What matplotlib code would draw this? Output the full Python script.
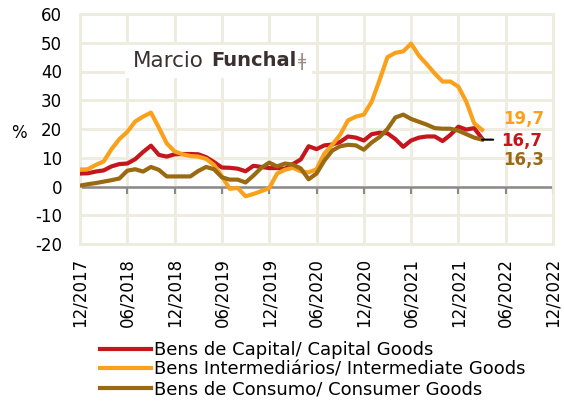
import matplotlib
matplotlib.use("Agg")
import matplotlib.pyplot as plt
from matplotlib import markers
from matplotlib.patches import Rectangle

# months since 12/2017 (0 = 12/2017 ... 51 = 03/2022)
months = list(range(52))

capital = [4.5, 4.6, 5.2, 5.6, 7.0, 7.8, 8.0, 9.5, 12.0, 14.2,
           11.0, 10.4, 11.2, 11.3, 11.3, 11.2, 10.2, 8.5, 6.6, 6.5,
           6.2, 5.3, 7.2, 6.8, 6.4, 6.4, 6.2, 7.8, 9.4, 14.0,
           13.0, 14.3, 14.6, 15.5, 17.4, 17.0, 16.0, 18.2, 18.7, 18.5,
           16.5, 13.8, 16.0, 17.0, 17.4, 17.4, 15.8, 18.0, 20.8, 19.8,
           20.3, 16.7]

intermediate = [5.9, 6.0, 7.5, 8.7, 13.0, 16.5, 19.0, 22.6, 24.3, 25.7,
                20.5, 15.0, 12.2, 11.2, 10.6, 10.4, 9.6, 7.5, 3.5, -0.8,
                -0.5, -3.4, -2.6, -1.6, -0.6, 4.5, 5.8, 6.5, 5.3, 4.9,
                6.0, 11.5, 14.5, 18.0, 23.0, 24.3, 25.0, 29.5, 37.0, 45.0,
                46.5, 47.0, 49.7, 45.5, 42.5, 39.3, 36.5, 36.5, 34.7, 29.5,
                22.0, 19.7]

consumer = [0.3, 0.8, 1.2, 1.7, 2.2, 2.8, 5.5, 6.0, 5.2, 6.8,
            5.8, 3.5, 3.5, 3.5, 3.5, 5.4, 6.8, 6.0, 3.2, 2.4,
            2.4, 1.4, 3.8, 6.5, 8.3, 7.0, 8.0, 7.6, 6.3, 2.5,
            4.5, 9.0, 12.5, 14.0, 14.5, 14.3, 12.8, 15.3, 17.2, 20.0,
            24.0, 25.0, 23.5, 22.5, 21.5, 20.3, 20.1, 20.1, 19.4, 18.2,
            17.0, 16.3]

tick_pos = [0, 6, 12, 18, 24, 30, 36, 42, 48, 54, 60]
tick_labels = ["12/2017", "06/2018", "12/2018", "06/2019", "12/2019", "06/2020",
               "12/2020", "06/2021", "12/2021", "06/2022", "12/2022"]

series_names = ["Bens de Capital/ Capital Goods",
                "Bens Intermediários/ Intermediate Goods",
                "Bens de Consumo/ Consumer Goods"]
end_labels = ["16,7", "19,7", "16,3"]

C_RED = "#c4161c"
C_ORANGE = "#f9a11b"
C_BROWN = "#9a6a12"
GRID = "#eeebdf"

plt.rcParams['font.family'] = ['DejaVu Sans']
plt.rcParams['axes.unicode_minus'] = False

fig = plt.figure(figsize=(5.64, 4.04), dpi=100)
W, H = 564, 404
ax = fig.add_axes([80 / W, 1 - 244 / H, (553 - 80) / W, (244 - 14) / H])

ax.set_xlim(0, 60)
ax.set_ylim(-20, 60)
ax.set_yticks(range(-20, 61, 10))
ax.set_xticks(tick_pos)
ax.set_xticklabels(tick_labels, rotation=90, fontsize=12)
ax.tick_params(axis='y', labelsize=12, length=0, pad=13)
ax.tick_params(axis='x', length=0, pad=10)
ax.grid(True, color=GRID, linewidth=2)
ax.set_axisbelow(True)
for s in ax.spines.values():
    s.set_color(GRID)
    s.set_linewidth(2)

ax.axhline(0, color="#8a8a8a", linewidth=1.8, zorder=2)
ax.plot(tick_pos, [0] * len(tick_pos), linestyle='none',
        marker=markers.TICKDOWN, markersize=5, markeredgewidth=1.5,
        color="#8a8a8a", zorder=2)

# logo box
ax.add_patch(Rectangle((125 / W, 1 - 78 / H), (312 - 125) / W, (78 - 45) / H,
                       transform=fig.transFigure, facecolor="white",
                       edgecolor="none", zorder=1.5))
fig.text(133 / W, 1 - 61 / H, "Marcio", fontsize=15.5, color="#3a3030",
         va="center", ha="left", zorder=5)
fig.text(211 / W, 1 - 61 / H, "Funchal", fontsize=14, fontweight="bold",
         color="#3a3030", va="center", ha="left", zorder=5)
fig.text(298 / W, 1 - 61 / H, "ǂ", fontsize=13, color="#9b8a80",
         va="center", ha="left", zorder=5)

l1, = ax.plot(months, capital, color=C_RED, linewidth=3, zorder=3,
              label=series_names[0])
l2, = ax.plot(months, intermediate, color=C_ORANGE, linewidth=3, zorder=3,
              label=series_names[1])
l3, = ax.plot(months, consumer, color=C_BROWN, linewidth=3, zorder=4,
              label=series_names[2])

# black leader tick at end
ax.annotate("", xy=(months[-1], consumer[-1]), xytext=(8, 0),
            textcoords="offset points",
            arrowprops=dict(arrowstyle="-", color="black", lw=1.5,
                            shrinkA=0, shrinkB=0), zorder=5)

ax.annotate(end_labels[1], xy=(months[-1], intermediate[-1]), xytext=(15, 8),
            textcoords="offset points", color=C_ORANGE, fontsize=12,
            fontweight="bold", va="center", ha="left")
ax.annotate(end_labels[0], xy=(months[-1], capital[-1]), xytext=(14, -1.5),
            textcoords="offset points", color=C_RED, fontsize=12,
            fontweight="bold", va="center", ha="left")
ax.annotate(end_labels[2], xy=(months[-1], consumer[-1]), xytext=(15, -15),
            textcoords="offset points", color=C_BROWN, fontsize=12,
            fontweight="bold", va="center", ha="left")

fig.text(19 / W, 1 - 133 / H, "%", fontsize=12, ha="center", va="center")

fig.legend(handles=[l1, l2, l3], loc="upper left",
           bbox_to_anchor=(100 / W, 1 - 341 / H), frameon=False,
           fontsize=13, handlelength=2.8, handletextpad=0.2,
           labelspacing=0.1, borderaxespad=0, borderpad=0)

fig.savefig("out.png", dpi=100)
